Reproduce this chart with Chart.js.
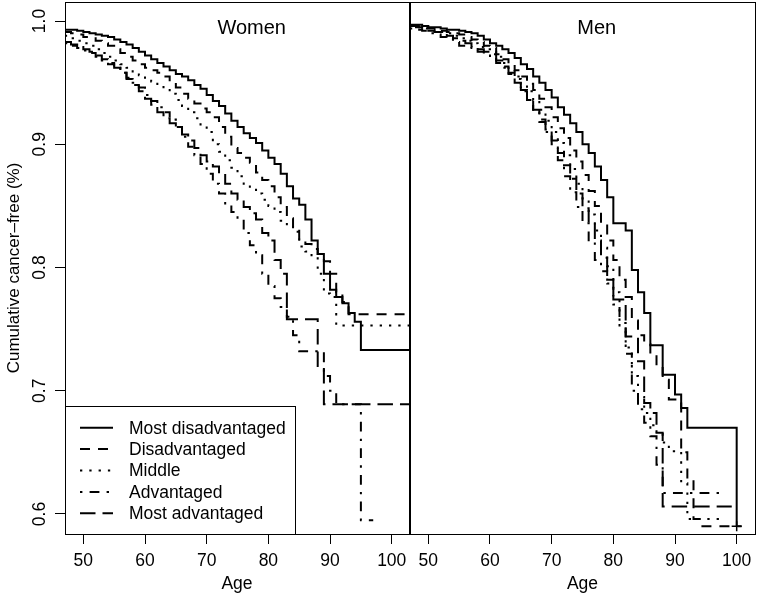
<!DOCTYPE html>
<html>
<head>
<meta charset="utf-8">
<script src="https://cdn.jsdelivr.net/npm/chart.js@4"></script>
<style>
  html, body { margin: 0; padding: 0; background: #fff; }
  #wrap { position: relative; width: 757px; height: 596px; overflow: hidden; }
  canvas { position: absolute; top: 0; }
  #womenChart { left: 0; }
  #menChart { left: 409px; }
</style>
</head>
<body>
<div id="wrap">
  <canvas id="womenChart" width="410" height="596"></canvas>
  <canvas id="menChart" width="348" height="596"></canvas>
</div>
<script>
// --- Data (cumulative cancer-free by age) ---
const groupNames = ['Most disadvantaged', 'Disadvantaged', 'Middle', 'Advantaged', 'Most advantaged'];
const xTicks = [50, 60, 70, 80, 90, 100];
const yTicks = [0.6, 0.7, 0.8, 0.9, 1.0];

// Women: one value per year of age, 47..95
const womenAges = [47, 48, 49, 50, 51, 52, 53, 54, 55, 56, 57, 58, 59, 60, 61, 62, 63, 64, 65, 66,
  67, 68, 69, 70, 71, 72, 73, 74, 75, 76, 77, 78, 79, 80, 81, 82, 83, 84, 85, 86,
  87, 88, 89, 90, 91, 92, 93, 94, 95];
const womenMostDis = [.993, .993, .992, .991, .990, .989, .988, .987, .985, .983,
  .981, .978, .975, .972, .969, .966, .963, .960, .957, .955,
  .952, .948, .945, .940, .935, .931, .925, .919, .914, .909,
  .905, .901, .895, .889, .884, .876, .866, .856, .851, .839,
  .822, .811, .795, .782, .776, .771, .763, .756, .733];
const womenDis = [.991, .990, .989, .987, .986, .984, .982, .980, .977, .974,
  .971, .968, .965, .962, .960, .958, .955, .950, .946, .941,
  .937, .933, .929, .926, .922, .914, .906, .897, .893, .889,
  .885, .877, .871, .866, .857, .849, .840, .832, .822, .819,
  .815, .811, .805, .795, .780, .772, .762, .762, .762];
const womenMid = [.988, .986, .984, .982, .980, .977, .974, .971, .968, .965,
  .962, .959, .956, .953, .951, .948, .944, .941, .936, .931,
  .926, .921, .916, .910, .900, .894, .887, .881, .874, .868,
  .864, .860, .855, .850, .845, .838, .833, .829, .817, .813,
  .809, .795, .779, .776, .753, .753, .753, .753, .753];
const womenAdv = [.982, .980, .978, .976, .974, .971, .968, .965, .962, .958,
  .954, .950, .946, .940, .935, .930, .926, .920, .914, .906,
  .898, .891, .884, .876, .868, .860, .852, .845, .839, .828,
  .818, .810, .795, .785, .775, .768, .760, .745, .732, .732,
  .732, .732, .712, .700, .689, .689, .689, .689, .595];
const womenMostAdv = [.983, .981, .979, .977, .975, .972, .969, .966, .962, .958,
  .953, .948, .943, .937, .932, .926, .921, .917, .913, .908,
  .903, .897, .891, .886, .882, .876, .868, .860, .855, .849,
  .844, .839, .828, .822, .806, .795, .758, .758, .758, .758,
  .758, .720, .689, .689, .689, .689, .689, .689, .689];
const womenEndAge = [102.8, 102.8, 102.8, 97, 102.8];

// Men: one value per year of age, 47..100 (null once the curve has ended)
const menAges = [47, 48, 49, 50, 51, 52, 53, 54, 55, 56, 57, 58, 59, 60, 61, 62, 63, 64, 65, 66,
  67, 68, 69, 70, 71, 72, 73, 74, 75, 76, 77, 78, 79, 80, 81, 82, 83, 84, 85, 86,
  87, 88, 89, 90, 91, 92, 93, 94, 95, 96, 97, 98, 99, 100];
const menMostDis = [.997, .997, .996, .995, .995, .994, .993, .993, .992, .991,
  .990, .988, .985, .982, .980, .977, .974, .970, .965, .961,
  .955, .950, .944, .938, .930, .924, .917, .910, .900, .893,
  .882, .871, .857, .836, .836, .830, .798, .780, .763, .737,
  .737, .713, .713, .697, .686, .670, .670, .670, .670, .670,
  .670, .670, .670, .590];
const menDis = [.996, .996, .995, .994, .993, .992, .991, .990, .989, .987,
  .985, .983, .980, .978, .973, .969, .965, .960, .955, .949,
  .944, .937, .930, .922, .913, .905, .895, .886, .875, .862,
  .850, .836, .822, .806, .790, .776, .757, .745, .738, .730,
  .720, .709, .693, .693, .650, .628, .596, .590, .590, .590,
  .590, .590, .590, .590];
const menMid = [.996, .995, .994, .993, .992, .991, .990, .988, .986, .984,
  .982, .979, .977, .975, .971, .966, .961, .955, .949, .943,
  .936, .928, .919, .910, .901, .891, .880, .868, .856, .843,
  .830, .816, .801, .780, .755, .735, .712, .695, .682, .672,
  .665, .658, .651, .651, .625, .596, null, null, null, null,
  null, null, null, null];
const menAdv = [.994, .993, .992, .990, .989, .987, .985, .983, .980, .979,
  .978, .975, .973, .970, .966, .962, .958, .953, .944, .936,
  .927, .918, .910, .900, .887, .874, .861, .849, .836, .821,
  .806, .797, .787, .770, .752, .730, .700, .685, .674, .663,
  .640, .617, null, null, null, null, null, null, null, null,
  null, null, null, null];
const menMostAdv = [.996, .995, .994, .992, .991, .990, .988, .986, .984, .982,
  .979, .977, .975, .973, .968, .963, .957, .950, .943, .936,
  .928, .920, .912, .903, .893, .883, .872, .860, .848, .835,
  .822, .808, .790, .774, .774, .744, .744, .724, .690, .682,
  .666, .606, null, null, null, null, null, null, null, null,
  null, null, null, null];
const menEndAge = [100, 100.8, 97.6, 97.8, 99.2];

// --- Line styles (R lty 1..5) ---
const dashPatterns = [[], [10, 8], [2.3, 7], [2.4, 7.2, 9.8, 7.2], [15.5, 7]];
const FONT = '"Liberation Sans", Arial, Helvetica, sans-serif';

/**
 * Builds step-curve datasets for one panel
 */
function buildDatasets(ages, seriesList, endAges, censorFirst) {
    return seriesList.map((values, i) => {
        const pts = [];
        ages.forEach((a, k) => {
            if (values[k] !== null) pts.push({ x: a, y: values[k] });
        });
        const last = pts[pts.length - 1];
        if (endAges[i] > last.x) pts.push({ x: endAges[i], y: last.y });
        const n = pts.length;
        return {
            label: groupNames[i],
            data: pts,
            borderColor: '#000',
            backgroundColor: '#000',
            borderWidth: 2,
            borderDash: dashPatterns[i],
            stepped: true,
            fill: false,
            pointRadius: (censorFirst && i === 0) ? pts.map((p, k) => k === n - 1 ? 5 : 0) : 0,
            pointStyle: 'cross',
            pointBorderWidth: 1.5,
            pointHoverRadius: 0
        };
    });
}

// Frame around the plot region, panel label, rotated y tick labels, legend
const panelPlugin = {
    id: 'panelPlugin',
    afterDraw(chart, args, opts) {
        const ctx = chart.ctx;
        const area = chart.chartArea;
        const xs = chart.scales.x;
        const ys = chart.scales.y;
        ctx.save();

        // box
        ctx.strokeStyle = '#000';
        ctx.lineWidth = 1;
        ctx.setLineDash([]);
        ctx.strokeRect(Math.round(area.left) + 0.5, Math.round(area.top) + 0.5,
            Math.round(area.right - area.left), Math.round(area.bottom - area.top));

        // panel label
        ctx.fillStyle = '#000';
        ctx.font = '20px ' + FONT;
        ctx.textAlign = 'center';
        ctx.textBaseline = 'middle';
        ctx.fillText(opts.title, xs.getPixelForValue(77.3), ys.getPixelForValue(0.994));

        if (opts.yLabels) {
            ctx.font = '17.5px ' + FONT;
            yTicks.forEach(v => {
                ctx.save();
                ctx.translate(40, ys.getPixelForValue(v));
                ctx.rotate(-Math.PI / 2);
                ctx.fillText(v.toFixed(1), 0, 0);
                ctx.restore();
            });
        }

        if (opts.legend) {
            const bx = Math.round(area.left) + 0.5;
            const by = 406.5;
            const bw = 230;
            const bh = Math.round(area.bottom) - 406;
            ctx.fillStyle = '#fff';
            ctx.fillRect(bx, by, bw, bh);
            ctx.strokeRect(bx, by, bw, bh);
            ctx.font = '17.5px ' + FONT;
            ctx.textAlign = 'left';
            ctx.fillStyle = '#000';
            groupNames.forEach((name, i) => {
                const y = 427.7 + i * 21.4;
                ctx.lineWidth = 2;
                ctx.setLineDash(dashPatterns[i]);
                ctx.beginPath();
                ctx.moveTo(80, y);
                ctx.lineTo(113, y);
                ctx.stroke();
                ctx.setLineDash([]);
                ctx.fillText(name, 129, y + 1);
            });
        }
        ctx.restore();
    }
};

function xScale(min, max) {
    return {
        type: 'linear',
        min: min,
        max: max,
        afterBuildTicks: scale => { scale.ticks = xTicks.map(v => ({ value: v })); },
        afterFit: scale => {
            scale.height = 62;
            scale.paddingLeft = 0;
            scale.paddingRight = 0;
        },
        border: { display: false },
        grid: { drawOnChartArea: false, drawTicks: true, tickLength: 10, color: '#000' },
        ticks: { color: '#000', font: { family: FONT, size: 17.5 }, padding: 7, maxRotation: 0 },
        title: { display: true, text: 'Age', color: '#000', font: { family: FONT, size: 17.5 }, padding: { top: 0, bottom: 1 } }
    };
}

function yScale(isLeft) {
    return {
        type: 'linear',
        min: 0.58377,
        max: 1.01542,
        afterBuildTicks: scale => { scale.ticks = yTicks.map(v => ({ value: v })); },
        afterFit: scale => {
            scale.width = isLeft ? 65 : 0;
            scale.paddingTop = 0;
            scale.paddingBottom = 0;
        },
        border: { display: false },
        grid: { drawOnChartArea: false, drawTicks: isLeft, tickLength: 10, color: '#000' },
        ticks: { display: false },
        title: { display: isLeft, text: 'Cumulative cancer–free (%)', color: '#000', font: { family: FONT, size: 17 }, padding: { top: 4, bottom: 4 } }
    };
}

function makeChart(canvas, datasets, xMin, xMax, isLeft, title) {
    return new Chart(canvas, {
        type: 'line',
        data: { datasets: datasets },
        options: {
            responsive: false,
            animation: false,
            devicePixelRatio: 1,
            layout: {
                autoPadding: false,
                padding: isLeft ? { top: 2, right: 1, left: 0, bottom: 0 } : { top: 2, right: 2, left: 1, bottom: 0 }
            },
            scales: { x: xScale(xMin, xMax), y: yScale(isLeft) },
            plugins: {
                legend: { display: false },
                tooltip: { enabled: false },
                panelPlugin: { title: title, yLabels: isLeft, legend: isLeft }
            }
        },
        plugins: [panelPlugin]
    });
}

window.addEventListener('load', () => {
    makeChart(document.getElementById('womenChart'),
        buildDatasets(womenAges, [womenMostDis, womenDis, womenMid, womenAdv, womenMostAdv], womenEndAge, false),
        47.03, 102.8, true, 'Women');
    makeChart(document.getElementById('menChart'),
        buildDatasets(menAges, [menMostDis, menDis, menMid, menAdv, menMostAdv], menEndAge, true),
        47.03, 102.97, false, 'Men');
});
</script>
</body>
</html>
